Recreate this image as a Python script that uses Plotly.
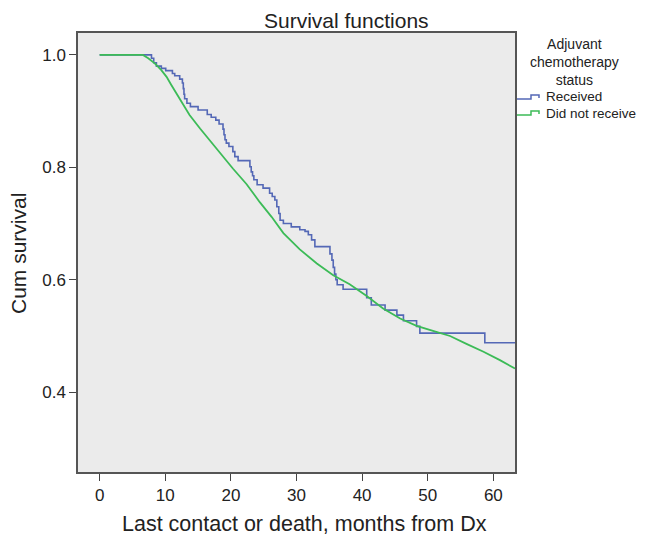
import plotly.graph_objects as go

# ---- data ----
received_t = [0, 7.9, 8.24, 8.65, 9.4, 10.07, 11.09, 11.44, 12.2, 12.61, 12.75, 12.85, 12.95,
              13.3, 13.83, 15.0, 16.4, 17.0, 17.7, 18.2, 18.8, 18.95, 19.1, 19.3, 19.7, 20.3,
              20.6, 21.1, 22.9, 23.1, 23.3, 23.5, 24.0, 24.9, 25.9, 26.3, 26.7, 27.0, 27.3,
              27.5, 28.0, 29.2, 30.5, 31.3, 31.8, 32.3, 32.8, 35.1, 35.4, 35.6, 35.8, 36.0,
              36.2, 37.1, 40.7, 41.4, 43.5, 45.3, 46.3, 48.3, 48.8, 58.7, 63.3]
received_s = [1.0, 0.994, 0.986, 0.980, 0.976, 0.972, 0.967, 0.963, 0.957, 0.950, 0.940, 0.930, 0.922,
              0.914, 0.908, 0.902, 0.894, 0.889, 0.884, 0.877, 0.868, 0.858, 0.849, 0.843, 0.837, 0.828,
              0.819, 0.812, 0.801, 0.792, 0.785, 0.778, 0.769, 0.763, 0.754, 0.748, 0.742, 0.730, 0.718,
              0.706, 0.700, 0.694, 0.689, 0.686, 0.680, 0.671, 0.659, 0.646, 0.635, 0.622, 0.610, 0.600,
              0.591, 0.583, 0.568, 0.555, 0.546, 0.537, 0.527, 0.517, 0.505, 0.488, 0.488]

notrec_t = [0, 6.6, 7.4, 8.4, 9.4, 10.2, 10.9, 11.7, 12.7, 13.7, 15.3, 16.5, 18.3, 20.3, 22.4,
            24.4, 26.2, 28.0, 30.5, 33.1, 35.6, 38.1, 40.7, 43.2, 45.8, 48.3, 50.8, 53.4, 55.9,
            58.5, 61.0, 63.3]
notrec_s = [1.0, 1.0, 0.994, 0.985, 0.973, 0.961, 0.947, 0.932, 0.911, 0.893, 0.869, 0.852, 0.825,
            0.798, 0.770, 0.738, 0.712, 0.683, 0.654, 0.629, 0.608, 0.592, 0.571, 0.549, 0.531,
            0.518, 0.509, 0.500, 0.486, 0.472, 0.457, 0.442]

x_ticks = [0, 10, 20, 30, 40, 50, 60]
y_ticks = [0.4, 0.6, 0.8, 1.0]
y_tick_labels = ["0.4", "0.6", "0.8", "1.0"]

series_names = ["Received", "Did not receive"]
legend_title = "Adjuvant<br>chemotherapy<br>status"
chart_title = "Survival functions"
x_title = "Last contact or death, months from Dx"
y_title = "Cum survival"

BLUE = "#5468B6"
GREEN = "#3CBB57"
FONT = "Liberation Sans, Arial, sans-serif"
TXT = "#222222"

W, H = 651, 537
L, R, T, B = 78, 515, 33, 472


def px(xp):
    return (xp - L) / (R - L)


def py(yp):
    return (B - yp) / (B - T)


fig = go.Figure()
fig.add_trace(go.Scatter(x=received_t, y=received_s, mode="lines", line_shape="hv",
                         line=dict(color=BLUE, width=1.6), name=series_names[0],
                         showlegend=False))
fig.add_trace(go.Scatter(x=notrec_t, y=notrec_s, mode="lines",
                         line=dict(color=GREEN, width=1.8), name=series_names[1],
                         showlegend=False))

fig.update_layout(
    width=W, height=H,
    margin=dict(l=L, r=W - R, t=T, b=H - B, pad=0),
    paper_bgcolor="white",
    plot_bgcolor="#EBEBEB",
    font=dict(family=FONT, color=TXT),
    showlegend=False,
)
fig.update_xaxes(range=[-3.3, 63.3], tickvals=x_ticks, ticks="outside", ticklen=7,
                 tickcolor="#444", tickwidth=1.2, showgrid=False, zeroline=False,
                 showline=True, linecolor="#555", linewidth=1.5, mirror=True,
                 tickfont=dict(size=17, color=TXT))
fig.update_yaxes(range=[0.258, 1.039], tickvals=y_ticks, ticktext=y_tick_labels,
                 ticks="outside", ticklen=7, tickcolor="#444", tickwidth=1.2,
                 showgrid=False, zeroline=False, showline=True, linecolor="#555",
                 linewidth=1.5, mirror=True, tickfont=dict(size=17, color=TXT))

ann = []
ann.append(dict(text=chart_title, x=px(346), y=py(20.5), xref="paper", yref="paper",
                showarrow=False, font=dict(size=21, color=TXT), xanchor="center",
                yanchor="middle"))
ann.append(dict(text=x_title, x=px(304), y=py(524), xref="paper", yref="paper",
                showarrow=False, font=dict(size=21.5, color=TXT), xanchor="center",
                yanchor="middle"))
ann.append(dict(text=y_title, x=px(18), y=py(254), xref="paper", yref="paper",
                showarrow=False, font=dict(size=21, color=TXT), textangle=-90,
                xanchor="center", yanchor="middle"))
ann.append(dict(text=legend_title, x=px(574), y=py(62), xref="paper", yref="paper",
                showarrow=False, font=dict(size=14, color=TXT), align="center",
                xanchor="center", yanchor="middle"))
ann.append(dict(text=series_names[0], x=px(544), y=py(97), xref="paper", yref="paper",
                showarrow=False, font=dict(size=13.5, color=TXT), xanchor="left",
                yanchor="middle"))
ann.append(dict(text=series_names[1], x=px(544), y=py(113), xref="paper", yref="paper",
                showarrow=False, font=dict(size=13.5, color=TXT), xanchor="left",
                yanchor="middle"))
fig.update_layout(annotations=ann)


def step_icon(yb, color):
    pts = [(517, yb), (531, yb), (531, yb - 4), (539, yb - 4), (539, yb - 1)]
    d = "M " + " L ".join(f"{px(a):.5f},{py(b):.5f}" for a, b in pts)
    return dict(type="path", path=d, xref="paper", yref="paper",
                line=dict(color=color, width=1.5))


fig.update_layout(shapes=[step_icon(99, BLUE), step_icon(115, GREEN)])

fig.write_html("out.html")
